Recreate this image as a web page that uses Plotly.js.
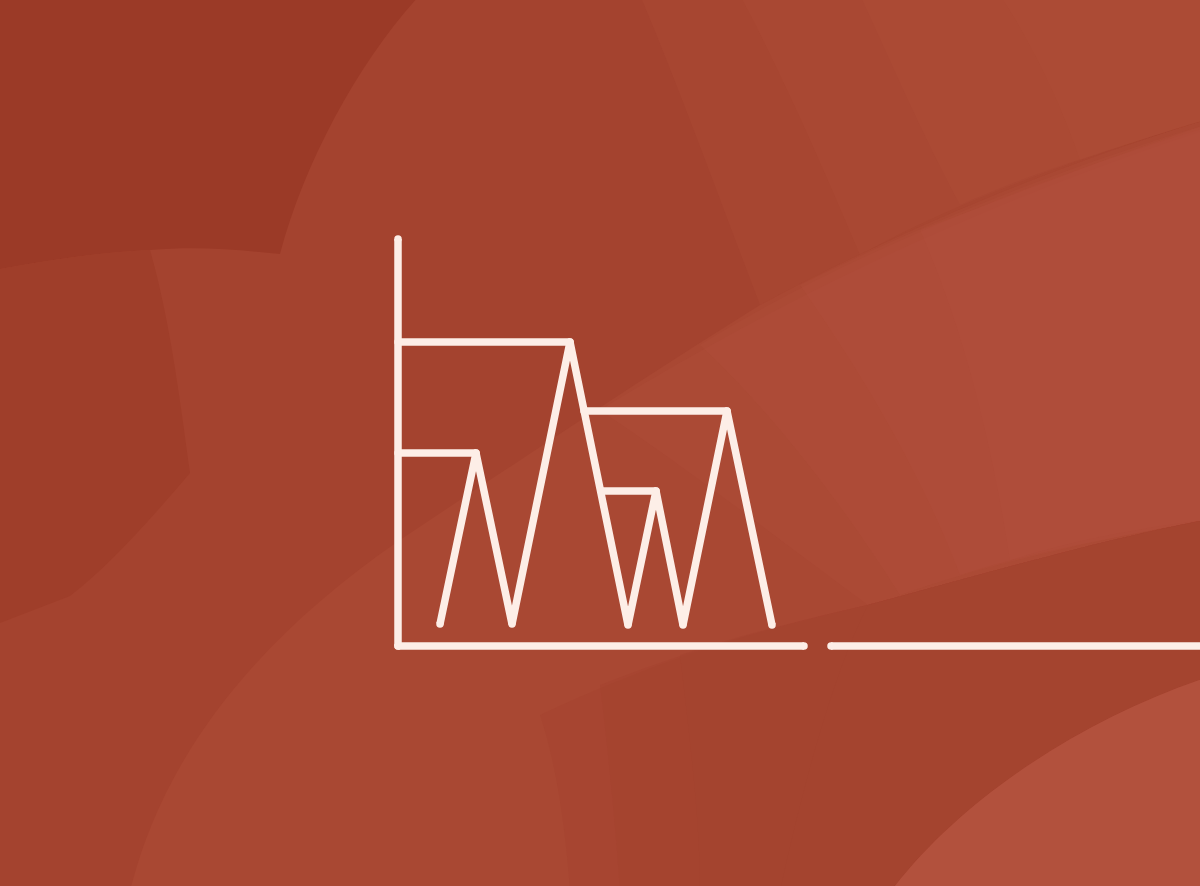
<!DOCTYPE html>
<html>
<head>
<meta charset="utf-8">
<script src="https://cdn.plot.ly/plotly-3.0.1.min.js"></script>
<style>
html,body{margin:0;padding:0;background:#a4432f;overflow:hidden;}
#chart{width:1200px;height:886px;}
</style>
</head>
<body>
<div id="chart"></div>
<script>
// ---- data (chart units: x to the right, y up from the baseline) ----
var peakX   = [440, 476, 512, 570, 628, 656, 683, 727, 772];
var peakY   = [22, 193, 22, 304, 21, 155, 21, 235, 21];
var levelStartX = [398, 398, 584, 601];
var levelEndX   = [476, 570, 727, 656];
var levelY      = [193, 304, 235, 155];
var axisTopY = 407;
var axisEndX = 804;
var tailStartX = 831;
var tailEndX = 1210;

var LINE = '#fdeee7';
var W = 7.5;

// pixel -> data helper for background decoration
function P(px, py){ return px + ',' + (646 - py); }
function path(cmds){
  return cmds.map(function(c){
    var op = c[0], pts = c.slice(1), s = op;
    for (var i=0;i<pts.length;i+=2){ s += (i? ' ' : '') + P(pts[i], pts[i+1]); }
    return s;
  }).join(' ') + ' Z';
}

var bgShapes = [
  // darker top-left region
  {p: path([['M',-5,-5],['L',420,-5],['C',360,60,305,160,280,254],['C',240,250,200,246,150,250],['C',100,252,50,260,-5,270]]), c:'#9b3a27', o:1},
  // left blob
  {p: path([['M',-5,270],['C',50,260,100,252,150,250],['C',170,320,180,400,190,473],['C',150,520,110,565,70,596],['L',-5,625]]), c:'#9f3e2a', o:1},
  // lighter sweeping band
  {p: path([['M',130,891],['C',160,770,240,650,400,540],['C',520,460,640,380,760,305],['C',880,240,1040,170,1205,120],['L',1205,891]]), c:'#a94833', o:1},
  // soft glow inside band (stacked)
  {p: path([['M',600,410],['C',700,350,900,230,1205,130],['L',1205,520],['C',1100,540,980,575,868,605],['C',780,540,690,470,600,410]]), c:'#b65540', o:0.18},
  {p: path([['M',700,345],['C',820,270,1000,190,1205,128],['L',1205,520],['C',1100,540,1000,560,900,595],['C',840,500,770,410,700,345]]), c:'#b65540', o:0.18},
  {p: path([['M',800,285],['C',900,235,1040,175,1205,125],['L',1205,520],['C',1100,540,1020,555,960,575],['C',920,470,860,370,800,285]]), c:'#b65540', o:0.18},
  {p: path([['M',920,230],['C',1000,200,1100,160,1205,125],['L',1205,520],['C',1120,530,1060,545,1010,560],['C',990,430,960,320,920,230]]), c:'#b65540', o:0.18},
  // soft glow top right, bounded below by the band edge (stacked)
  {p: path([['M',640,-5],['L',1205,-5],['L',1205,120],['C',1040,170,880,240,760,305],['C',720,200,680,90,640,-5]]), c:'#b1503b', o:0.22},
  {p: path([['M',740,-5],['L',1205,-5],['L',1205,120],['C',1040,170,940,210,860,255],['C',820,160,780,70,740,-5]]), c:'#b1503b', o:0.22},
  {p: path([['M',860,-5],['L',1205,-5],['L',1205,120],['C',1080,158,1010,182,960,205],['C',920,130,890,60,860,-5]]), c:'#b1503b', o:0.22},
  {p: path([['M',1000,-5],['L',1205,-5],['L',1205,120],['C',1150,136,1110,150,1080,160],['C',1060,100,1030,40,1000,-5]]), c:'#b1503b', o:0.22},
  // darker band lower right (stacked soft left edge)
  {p: path([['M',540,715],['C',680,650,780,625,868,605],['C',980,575,1100,540,1205,520],['L',1205,678],['C',1080,720,960,800,891,891],['L',570,891],['C',565,820,555,760,540,715]]), c:'#a4432f', o:0.45},
  {p: path([['M',600,685],['C',700,645,790,624,868,605],['C',980,575,1100,540,1205,520],['L',1205,678],['C',1080,720,960,800,891,891],['L',620,891],['C',615,820,608,750,600,685]]), c:'#a4432f', o:0.45},
  {p: path([['M',680,655],['C',740,635,810,618,868,605],['C',980,575,1100,540,1205,520],['L',1205,678],['C',1080,720,960,800,891,891],['L',700,891],['C',700,820,690,740,680,655]]), c:'#a4432f', o:0.5},
  {p: path([['M',868,605],['C',980,575,1100,540,1205,520],['L',1205,678],['C',1080,720,960,800,891,891],['L',780,891],['C',800,800,830,680,868,605]]), c:'#a4432f', o:0.5},
  // lighter bottom-right corner
  {p: path([['M',891,891],['C',960,800,1080,720,1205,678],['L',1205,891]]), c:'#b2513d', o:1}
];

var shapes = bgShapes.map(function(s){
  return {type:'path', xref:'x', yref:'y', path:s.p, fillcolor:s.c, opacity:s.o, line:{width:0}, layer:'below'};
});

var traces = [];
function seg(xs, ys){
  traces.push({x:xs, y:ys, type:'scatter', mode:'lines+markers',
    line:{color:LINE, width:W}, marker:{color:LINE, size:W, line:{width:0}},
    hoverinfo:'skip', showlegend:false, cliponaxis:false});
}
// axes of the icon
seg([levelStartX[0], levelStartX[0]], [0, axisTopY]);
seg([levelStartX[0], axisEndX], [0, 0]);
seg([tailStartX, tailEndX], [0, 0]);
// level lines
for (var i=0;i<levelY.length;i++){ seg([levelStartX[i], levelEndX[i]], [levelY[i], levelY[i]]); }
// zigzag series
seg(peakX, peakY);

var layout = {
  width:1200, height:886,
  margin:{l:0,r:0,t:0,b:0,pad:0},
  paper_bgcolor:'#a4432f', plot_bgcolor:'rgba(0,0,0,0)',
  xaxis:{range:[0,1200], visible:false, fixedrange:true},
  yaxis:{range:[-240,646], visible:false, fixedrange:true},
  shapes:shapes, showlegend:false, hovermode:false
};
Plotly.newPlot('chart', traces, layout, {displayModeBar:false, staticPlot:true});
</script>
</body>
</html>
